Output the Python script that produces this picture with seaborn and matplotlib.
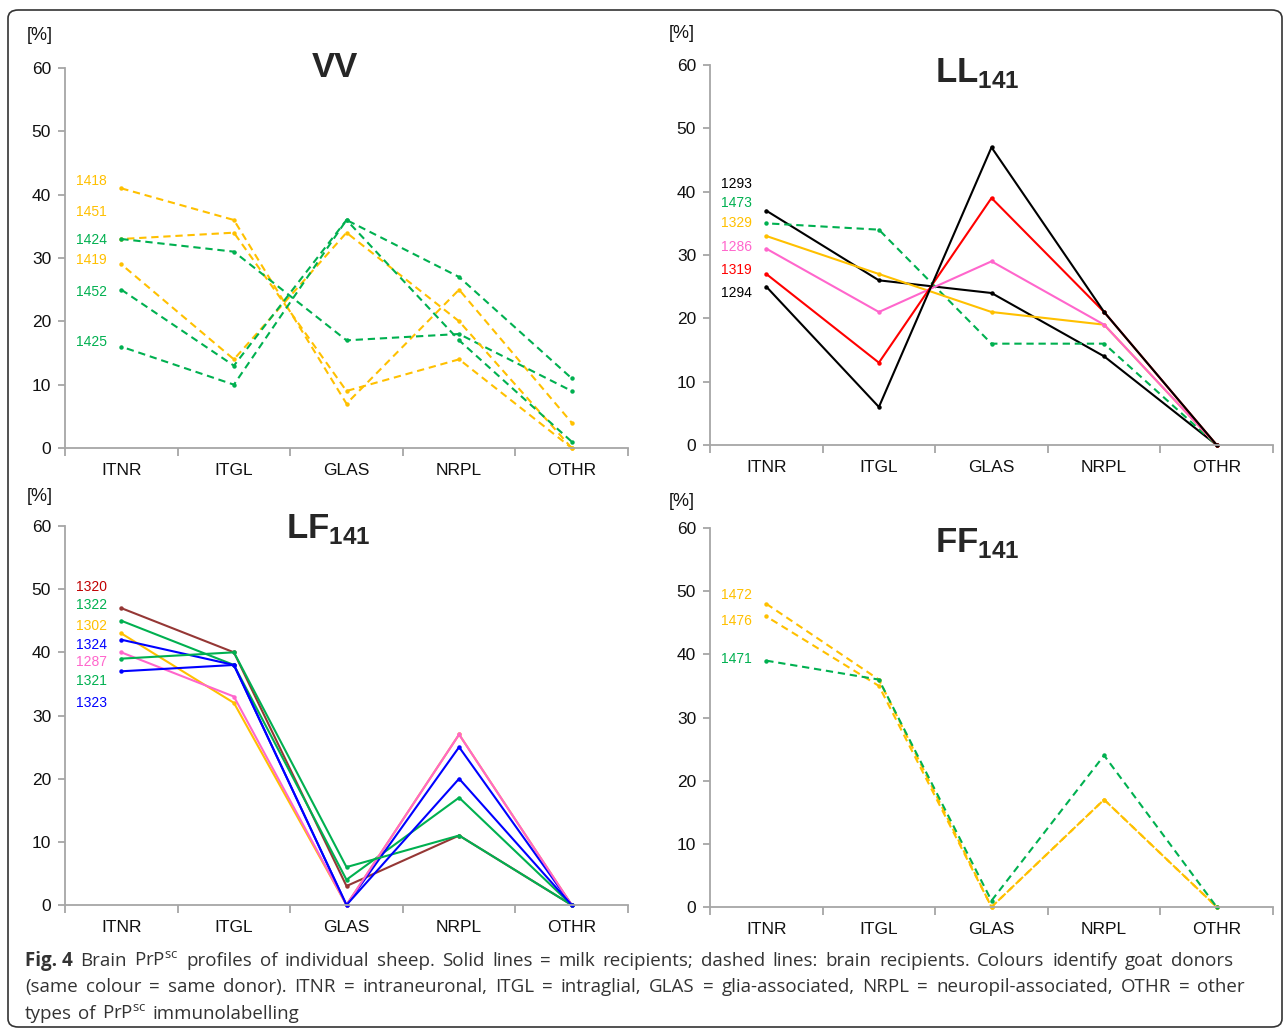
import matplotlib
matplotlib.use('Agg')
import matplotlib.pyplot as plt
import seaborn as sns
from matplotlib.patches import FancyBboxPatch

# categories on the x axis
regions = ['ITNR', 'ITGL', 'GLAS', 'NRPL', 'OTHR']

GOLD = '#FFC000'
GREEN = '#00B050'
BLACK = '#000000'
RED = '#FF0000'
PINK = '#FF66CC'
BLUE = '#0000FF'
BROWN = '#953735'
DARKRED = '#C00000'

# VV (brain recipients, dashed)
vv_ids = ['1418', '1451', '1424', '1419', '1452', '1425']
vv_vals = [[41, 36, 7, 25, 4],
           [33, 34, 9, 14, 0],
           [33, 31, 17, 18, 9],
           [29, 14, 34, 20, 0],
           [25, 13, 36, 17, 1],
           [16, 10, 36, 27, 11]]
vv_colors = [GOLD, GOLD, GREEN, GOLD, GREEN, GREEN]
vv_dashed = [True] * 6
vv_label_y = [42.2, 37.3, 32.8, 29.7, 24.6, 16.7]

# LL141
ll_ids = ['1293', '1473', '1329', '1286', '1319', '1294']
ll_vals = [[37, 26, 24, 14, 0],
           [35, 34, 16, 16, 0],
           [33, 27, 21, 19, 0],
           [31, 21, 29, 19, 0],
           [27, 13, 39, 21, 0],
           [25, 6, 47, 21, 0]]
ll_colors = [BLACK, GREEN, GOLD, PINK, RED, BLACK]
ll_dashed = [False, True, False, False, False, False]
ll_label_y = [41.2, 38.2, 35.1, 31.3, 27.6, 24.0]

# LF141 (all milk recipients)
lf_ids = ['1320', '1322', '1302', '1324', '1287', '1321', '1323']
lf_vals = [[47, 40, 3, 11, 0],
           [45, 38, 4, 17, 0],
           [43, 32, 0, 27, 0],
           [42, 38, 0, 25, 0],
           [40, 33, 0, 27, 0],
           [39, 40, 6, 11, 0],
           [37, 38, 0, 20, 0]]
lf_colors = [BROWN, GREEN, GOLD, BLUE, PINK, GREEN, BLUE]
lf_label_colors = [DARKRED, GREEN, GOLD, BLUE, PINK, GREEN, BLUE]
lf_dashed = [False] * 7
lf_label_y = [50.4, 47.5, 44.2, 41.2, 38.4, 35.4, 31.9]

# FF141
ff_ids = ['1472', '1476', '1471']
ff_vals = [[48, 36, 0, 17, 0],
           [46, 35, 0, 17, 0],
           [39, 36, 1, 24, 0]]
ff_colors = [GOLD, GOLD, GREEN]
ff_dashed = [True, True, True]
ff_label_y = [49.4, 45.3, 39.3]

sns.set_style('white')
cap_font = 'Open Sans'
plt.rcParams['font.family'] = ['Liberation Sans', 'DejaVu Sans']
plt.rcParams['mathtext.fontset'] = 'custom'
plt.rcParams['mathtext.rm'] = cap_font
plt.rcParams['mathtext.sf'] = 'Liberation Sans:bold'

W, H = 1287, 1031
fig = plt.figure(figsize=(W / 100, H / 100), dpi=100)
AXIS_GREY = '#A6A6A6'


def px_rect(l, r, t, b):
    return [l / W, 1 - b / H, (r - l) / W, (b - t) / H]


def draw_panel(rect, ids, vals, colors, dashed, label_y, label_colors=None):
    ax = fig.add_axes(px_rect(*rect))
    if label_colors is None:
        label_colors = colors
    for k, (v, c, d) in enumerate(zip(vals, colors, dashed)):
        ls = (0.0 + 3.0 * (k % 2), (3.5, 2.3)) if d else '-'
        sns.lineplot(x=regions, y=v, ax=ax, color=c, linestyle=ls, linewidth=1.5,
                     marker='o', markersize=3.2, markeredgewidth=0, sort=False,
                     legend=False, clip_on=False)
    for name, y, c in zip(ids, label_y, label_colors):
        ax.text(-0.13, y, name, color=c, ha='right', va='center', fontsize=10)
    ax.set_xlim(-0.5, 4.5)
    ax.set_ylim(0, 60)
    ax.set_yticks(range(0, 61, 10))
    ax.set_xticks([i - 0.5 for i in range(6)], labels=[''] * 6)
    ax.set_xticks(range(5), labels=regions, minor=True)
    ax.set_xlabel('')
    ax.set_ylabel('')
    for s in ['top', 'right']:
        ax.spines[s].set_visible(False)
    for s in ['left', 'bottom']:
        ax.spines[s].set_color(AXIS_GREY)
        ax.spines[s].set_linewidth(1.3)
    ax.tick_params(axis='x', which='major', direction='out', length=6, width=1.3,
                   color=AXIS_GREY, bottom=True)
    ax.tick_params(axis='x', which='minor', length=0, pad=11, labelsize=12.5,
                   labelcolor='#111111')
    ax.tick_params(axis='y', direction='out', length=5, width=1.3, color=AXIS_GREY,
                   left=True, labelsize=12.5, labelcolor='#111111', pad=5)
    return ax


draw_panel((65, 628, 68, 448), vv_ids, vv_vals, vv_colors, vv_dashed, vv_label_y)
draw_panel((710, 1273, 65, 445), ll_ids, ll_vals, ll_colors, ll_dashed, ll_label_y)
draw_panel((65, 628, 526, 905), lf_ids, lf_vals, lf_colors, lf_dashed, lf_label_y,
           lf_label_colors)
draw_panel((710, 1273, 528, 907), ff_ids, ff_vals, ff_colors, ff_dashed, ff_label_y)


def ftext(px, py, s, **kw):
    return fig.text(px / W, 1 - py / H, s, **kw)


# panel titles
ftext(335, 77, 'VV', ha='center', va='baseline', fontsize=25, fontweight='bold')
ftext(977, 82, r'$\mathsf{LL}_{\mathsf{141}}$', ha='center', va='baseline', fontsize=25)
ftext(328, 538, r'$\mathsf{LF}_{\mathsf{141}}$', ha='center', va='baseline', fontsize=25)
ftext(977, 552, r'$\mathsf{FF}_{\mathsf{141}}$', ha='center', va='baseline', fontsize=25)

# unit labels
for px, py in [(40, 36), (682, 33), (40, 497), (682, 501)]:
    ftext(px, py, '[%]', ha='center', va='center', fontsize=13, color='#111111')

# caption, words spread to a justified width like the journal layout
renderer = fig.canvas.get_renderer()
cap_kw = dict(ha='left', va='baseline', fontsize=13.5, family=cap_font, color='#333333')
line1 = [('Fig. 4', 'bold')] + [(w, 'normal') for w in (
    r'Brain PrP$^{\mathrm{sc}}$ profiles of individual sheep. Solid lines = milk '
    'recipients; dashed lines: brain recipients. Colours identify goat donors').split(' ')]
line2 = [(w, 'normal') for w in (
    '(same colour = same donor). ITNR = intraneuronal, ITGL = intraglial, '
    'GLAS = glia-associated, NRPL = neuropil-associated, OTHR = other').split(' ')]
line3 = [(w, 'normal') for w in r'types of PrP$^{\mathrm{sc}}$ immunolabelling'.split(' ')]


def place_words(words, px, py, right=None):
    texts = [ftext(px, py, w, fontweight=wt, **cap_kw) for w, wt in words]
    widths = [t.get_window_extent(renderer).width for t in texts]
    if right is None:
        gap = 6.0
    else:
        gap = (right - px - sum(widths)) / (len(texts) - 1)
    x = px
    for t, wd in zip(texts, widths):
        t.set_x(x / W)
        x += wd + gap


place_words(line1, 25, 966, right=1233)
place_words(line2, 25, 992, right=1245)
place_words(line3, 25, 1019)

# rounded frame around the whole figure
frame = FancyBboxPatch((8 / W, 1 - 1027 / H), 1274 / W, 1017 / H,
                       boxstyle='round,pad=0,rounding_size=0.008',
                       transform=fig.transFigure, fill=False, edgecolor='#333333',
                       linewidth=1.2)
fig.patches.append(frame)

fig.savefig('out.png', dpi=100)
